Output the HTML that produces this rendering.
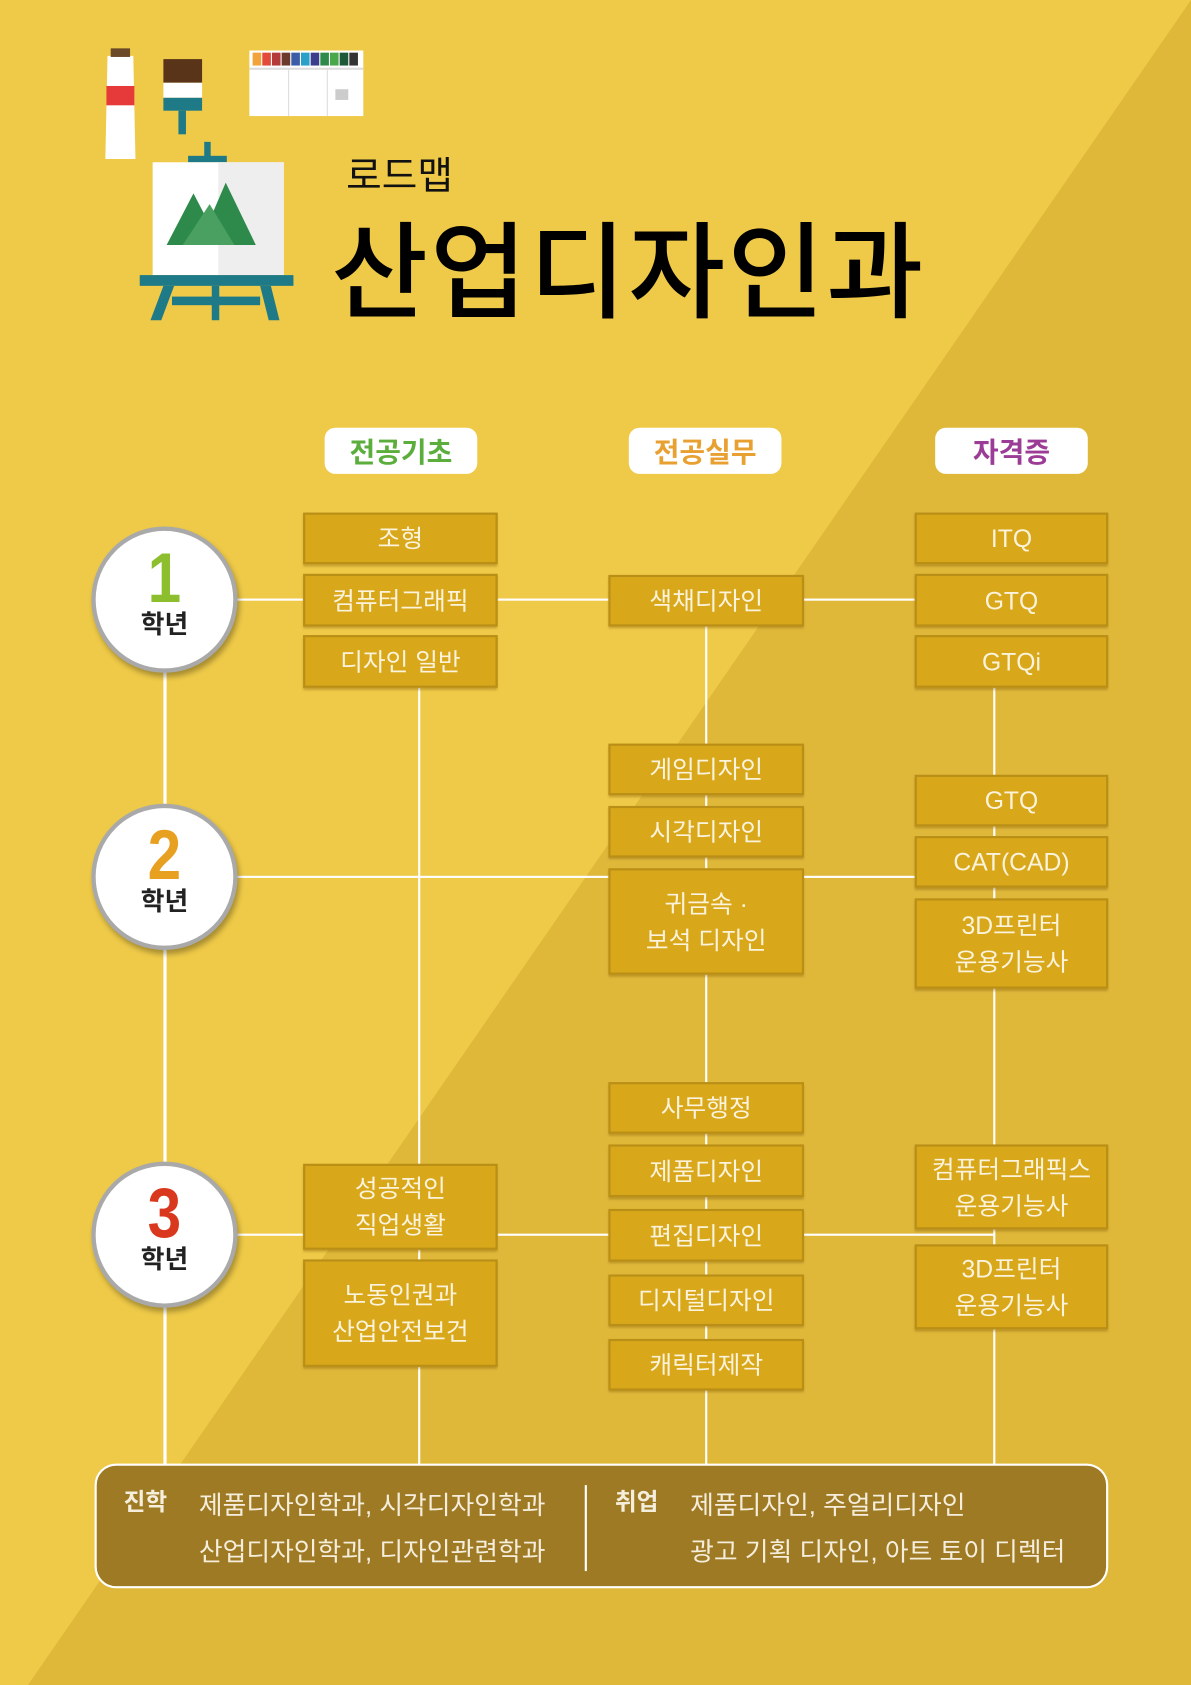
<!DOCTYPE html>
<html><head><meta charset="utf-8"><style>
html,body{margin:0;padding:0;width:1191px;height:1685px;overflow:hidden;background:#EFCA48}
#w{position:absolute;left:0;top:0;width:1108px;height:1568px;transform:scale(1.0749,1.0746);transform-origin:0 0;font-family:"Liberation Sans","Noto Sans CJK KR",sans-serif}
.a{position:absolute}
.b{position:absolute;background:#D8A71A;border:2px solid #B98F17;box-sizing:border-box;color:#FBF3DC;font-size:23px;display:flex;align-items:center;justify-content:center;text-align:center;line-height:34px;box-shadow:0 2px 2px rgba(120,80,0,.35)}
.c1{left:282px;width:181px}.c2{left:566px;width:182px}.c3{left:851px;width:180px}
.h{position:absolute;top:398px;height:43px;width:142px;background:#fff;border-radius:10px;font-size:26px;font-weight:bold;display:flex;align-items:center;justify-content:center}
.l{position:absolute;background:#fff}
.ci{position:absolute;left:85px;width:136px;height:136px;border-radius:50%;background:#fff;border:4px solid #A9A9A9;box-sizing:border-box;box-shadow:2px 4px 5px rgba(0,0,0,.3);text-align:center}
.ci .n{font-size:66px;font-weight:bold;line-height:62px;margin-top:12px;font-family:"Liberation Sans",sans-serif;transform:scaleX(.85)}
.ci .t{font-size:24px;font-weight:bold;color:#222;line-height:28px}
.bt{position:absolute;color:#F5EEDC;font-size:24px}
</style></head><body><div id="w">
<svg class="a" style="left:0;top:0" width="1108" height="1568"><polygon points="1108,0 1108,1568 26,1568" fill="#DFB83A"/></svg>
<svg class="a" style="left:90px;top:40px" width="260" height="270">
 <polygon points="10,12 34,12 36,108 8,108" fill="#fff"/><rect x="13" y="5" width="18" height="8" fill="#6b4a2a"/><rect x="9" y="40" width="26" height="18" fill="#E63A3A"/>
 <rect x="62" y="15" width="36" height="22" fill="#5a3418"/><rect x="62" y="37" width="36" height="14" fill="#fff"/><rect x="62" y="51" width="36" height="12" fill="#1E7A86"/><rect x="76" y="63" width="7" height="22" fill="#1E7A86"/>
 <rect x="142" y="7" width="106" height="61" fill="#fff"/>
 <g><rect x="145" y="9" width="8" height="12" fill="#F2A33B"/><rect x="154" y="9" width="8" height="12" fill="#E24A3A"/><rect x="163" y="9" width="8" height="12" fill="#B53A3A"/><rect x="172" y="9" width="8" height="12" fill="#6D3B2C"/><rect x="181" y="9" width="8" height="12" fill="#3B5DA8"/><rect x="190" y="9" width="8" height="12" fill="#2AA0C8"/><rect x="199" y="9" width="8" height="12" fill="#3C3C8C"/><rect x="208" y="9" width="8" height="12" fill="#2E8A4A"/><rect x="217" y="9" width="8" height="12" fill="#4AA84A"/><rect x="226" y="9" width="8" height="12" fill="#1E5A3A"/><rect x="235" y="9" width="8" height="12" fill="#333"/></g>
 <rect x="142" y="23" width="106" height="2" fill="#ddd"/><rect x="178" y="25" width="1" height="43" fill="#ddd"/><rect x="214" y="25" width="1" height="43" fill="#ddd"/>
 <rect x="222" y="43" width="12" height="10" fill="#ccc"/>
 <rect x="100" y="92" width="6" height="15" fill="#1E7A86"/><rect x="85" y="105" width="36" height="6" fill="#1E7A86"/>
 <rect x="52" y="111" width="122" height="105" fill="#fff"/><rect x="113" y="111" width="61" height="105" fill="#eee"/>
 <polygon points="65,188 90,140 115,188" fill="#2E8A4A"/><polygon points="95,188 120,130 148,188" fill="#2E8A4A"/><polygon points="80,188 105,150 128,188" fill="#4AA060"/>
 <rect x="40" y="216" width="143" height="10" fill="#1E7A86"/><polygon points="62,226 72,226 60,258 50,258" fill="#1E7A86"/><polygon points="152,226 162,226 170,258 160,258" fill="#1E7A86"/><rect x="107" y="226" width="7" height="32" fill="#1E7A86"/><rect x="70" y="236" width="82" height="8" fill="#1E7A86"/>
</svg>
<div class="a" style="left:322px;top:135px;font-size:36px;color:#111">로드맵</div>
<div class="a" style="left:308px;top:175px;font-size:98px;color:#000;letter-spacing:2px;font-weight:500">산업디자인과</div>
<div class="h" style="left:302px;color:#5BAE3C">전공기초</div>
<div class="h" style="left:585px;color:#E8A030">전공실무</div>
<div class="h" style="left:870px;color:#9B3C96">자격증</div>
<div class="l" style="left:152px;top:558px;width:3px;height:805px"></div>
<div class="l" style="left:389px;top:600px;width:2px;height:763px"></div>
<div class="l" style="left:656px;top:560px;width:2px;height:803px"></div>
<div class="l" style="left:924px;top:600px;width:2px;height:763px"></div>
<div class="l" style="left:153px;top:557px;width:772px;height:2px"></div>
<div class="l" style="left:153px;top:815px;width:772px;height:2px"></div>
<div class="l" style="left:153px;top:1148px;width:772px;height:2px"></div>
<div class="ci" style="top:490px"><div class="n" style="color:#8DBE2D">1</div><div class="t">학년</div></div>
<div class="ci" style="top:748px"><div class="n" style="color:#E8A020">2</div><div class="t">학년</div></div>
<div class="ci" style="top:1081px"><div class="n" style="color:#D9381E">3</div><div class="t">학년</div></div>
<div class="b c1" style="top:477px;height:48px">조형</div>
<div class="b c1" style="top:534px;height:49px">컴퓨터그래픽</div>
<div class="b c1" style="top:591px;height:49px">디자인 일반</div>
<div class="b c1" style="top:1083px;height:80px">성공적인<br>직업생활</div>
<div class="b c1" style="top:1172px;height:100px">노동인권과<br>산업안전보건</div>
<div class="b c2" style="top:535px;height:48px">색채디자인</div>
<div class="b c2" style="top:692px;height:48px">게임디자인</div>
<div class="b c2" style="top:750px;height:48px">시각디자인</div>
<div class="b c2" style="top:808px;height:99px">귀금속 ·<br>보석 디자인</div>
<div class="b c2" style="top:1007px;height:48px">사무행정</div>
<div class="b c2" style="top:1065px;height:49px">제품디자인</div>
<div class="b c2" style="top:1125px;height:49px">편집디자인</div>
<div class="b c2" style="top:1186px;height:48px">디지털디자인</div>
<div class="b c2" style="top:1246px;height:48px">캐릭터제작</div>
<div class="b c3" style="top:477px;height:48px">ITQ</div>
<div class="b c3" style="top:534px;height:49px">GTQ</div>
<div class="b c3" style="top:591px;height:49px">GTQi</div>
<div class="b c3" style="top:721px;height:48px">GTQ</div>
<div class="b c3" style="top:778px;height:48px">CAT(CAD)</div>
<div class="b c3" style="top:836px;height:84px">3D프린터<br>운용기능사</div>
<div class="b c3" style="top:1065px;height:79px">컴퓨터그래픽스<br>운용기능사</div>
<div class="b c3" style="top:1158px;height:79px">3D프린터<br>운용기능사</div>
<div class="a" style="left:88px;top:1362px;width:943px;height:116px;background:#9E7A25;border:2px solid #fff;border-radius:20px;box-sizing:border-box"></div>
<div class="l" style="left:544px;top:1382px;width:2px;height:80px"></div>
<div class="bt" style="left:115px;top:1380px;font-weight:bold;font-size:22px">진학</div>
<div class="bt" style="left:185px;top:1381px">제품디자인학과, 시각디자인학과</div>
<div class="bt" style="left:185px;top:1424px">산업디자인학과, 디자인관련학과</div>
<div class="bt" style="left:572px;top:1380px;font-weight:bold;font-size:22px">취업</div>
<div class="bt" style="left:642px;top:1381px">제품디자인, 주얼리디자인</div>
<div class="bt" style="left:642px;top:1424px">광고 기획 디자인, 아트 토이 디렉터</div>
</div></body></html>
